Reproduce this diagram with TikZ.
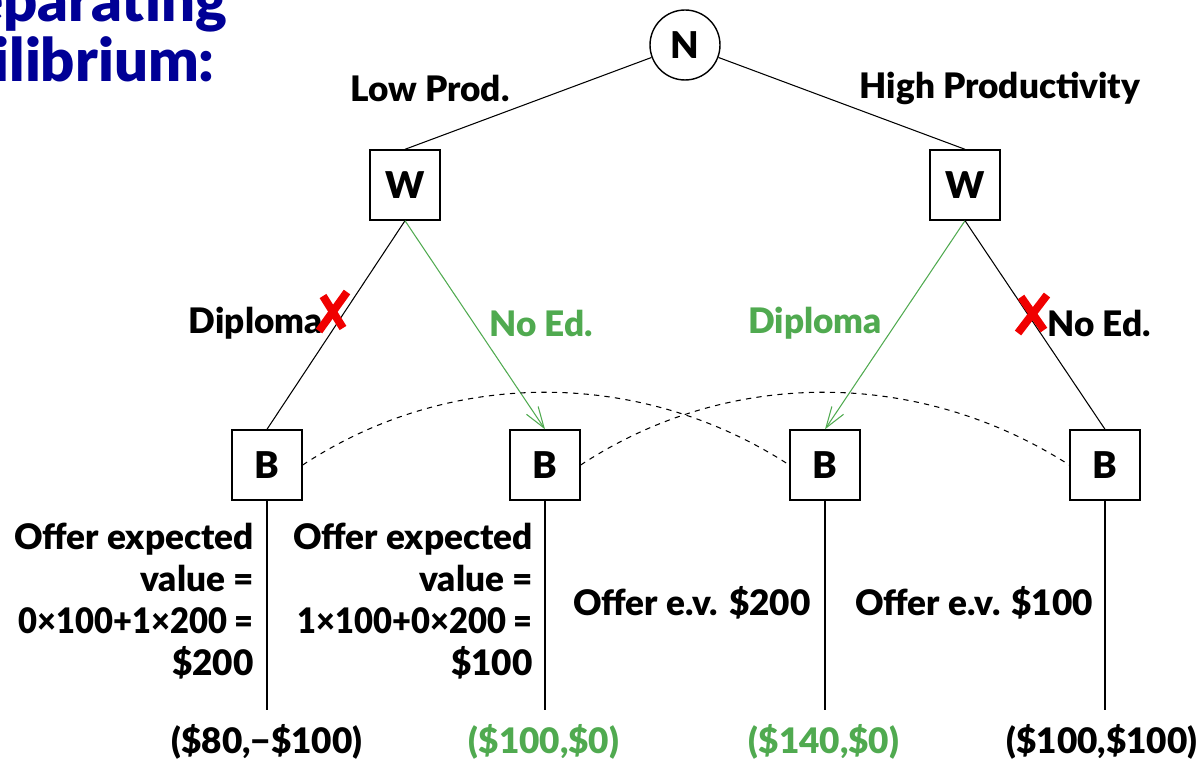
\documentclass[tikz,border=0pt]{standalone}
\usepackage{fontspec}
\setmainfont{Lato}[BoldFont={Lato Black}]
\usetikzlibrary{arrows.meta}
\definecolor{titleblue}{RGB}{0,0,150}
\definecolor{okgreen}{RGB}{80,170,80}
\definecolor{xred}{RGB}{240,0,0}
\tikzset{
  x=0.02cm, y=-0.02cm,
  every node/.style={font=\bfseries\fontsize{20}{24}\selectfont},
  chance/.style={circle, draw, line width=0.8pt, minimum size=1.4cm, inner sep=0pt, font=\bfseries\fontsize{21}{24}\selectfont},
  player/.style={rectangle, draw, line width=0.8pt, minimum size=1.4cm, inner sep=0pt, font=\bfseries\fontsize{21}{24}\selectfont},
  edge/.style={line width=0.6pt},
  chosen/.style={line width=0.6pt, draw=okgreen, -{Straight Barb[length=12pt,width=8pt,line width=0.6pt]}},
  infoset/.style={dashed, line width=0.6pt},
  crossout/.style={draw=xred, line width=4.5pt},
  offer/.style={align=right, inner sep=0pt},
  payoff/.style={inner sep=0pt},
}
\begin{document}
\begin{tikzpicture}
\useasboundingbox (0,0) rectangle (1200,760);
% title (cropped)
\node[anchor=base east, text=titleblue, font=\bfseries\fontsize{34}{40}\selectfont, inner sep=0pt] (t1) at (228,22) {Separating};
\node[anchor=base east, text=titleblue, font=\bfseries\fontsize{34}{40}\selectfont, inner sep=0pt] (t2) at (215,82) {Equilibrium:};
% nodes
\node[chance] (N) at (685,45) {N};
\node[player] (W1) at (405,185) {W};
\node[player] (W2) at (965,185) {W};
\node[player] (B1) at (267,465) {B};
\node[player] (B2) at (545,465) {B};
\node[player] (B3) at (825,465) {B};
\node[player] (B4) at (1105,465) {B};
% edges
\draw[edge] (N) -- (W1.north);
\draw[edge] (N) -- (W2.north);
\draw[edge] (W1.south) -- (B1.north);
\draw[chosen] (W1.south) -- (B2.north);
\draw[chosen] (W2.south) -- (B3.north);
\draw[edge] (W2.south) -- (B4.north);
% labels
\node (lp) at (430,88) {Low Prod.};
\node (hp) at (1000,88) {High Productivity};
\node[anchor=east, inner sep=0pt] (d1) at (323,323) {Diploma};
\node[text=okgreen] (n1) at (541,323) {No Ed.};
\node[text=okgreen] (d2) at (815,323) {Diploma};
\node[anchor=west, inner sep=0pt] (n2) at (1047,323) {No Ed.};
% crosses
\draw[crossout] (319,331) -- (347,292);
\draw[crossout] (323,296) -- (343,328);
\draw[crossout] (1018,333) -- (1047,295);
\draw[crossout] (1021,297) -- (1044,330);
% information sets
\draw[infoset] (B1.east) .. controls (450,368) and (640,368) .. (B3.west);
\draw[infoset] (B2.east) .. controls (728,368) and (918,368) .. (B4.west);
% terminal lines
\coordinate (e1) at (267,710);
\coordinate (e2) at (545,710);
\coordinate (e3) at (825,710);
\coordinate (e4) at (1105,710);
\draw[edge] (B1.south) -- (e1);
\draw[edge] (B2.south) -- (e2);
\draw[edge] (B3.south) -- (e3);
\draw[edge] (B4.south) -- (e4);
% offers
\node[offer, anchor=east] (o1) at (254,601) {Offer expected\\value =\\\scalebox{0.93}[1]{0×100+1×200 =}\\\$200};
\node[offer, anchor=east] (o2) at (533,601) {Offer expected\\value =\\\scalebox{0.93}[1]{1×100+0×200 =}\\\$100};
\node[offer, anchor=east] (o3) at (811,603) {Offer e.v. \$200};
\node[offer, anchor=west] (o4) at (855,603) {Offer e.v. \$100};
% payoffs
\node[payoff] (p1) at (267,742) {(\$80,−\$100)};
\node[payoff, text=okgreen] (p2) at (544,742) {(\$100,\$0)};
\node[payoff, text=okgreen] (p3) at (824,742) {(\$140,\$0)};
\node[payoff] (p4) at (1102,742) {(\$100,\$100)};
\end{tikzpicture}
\end{document}
